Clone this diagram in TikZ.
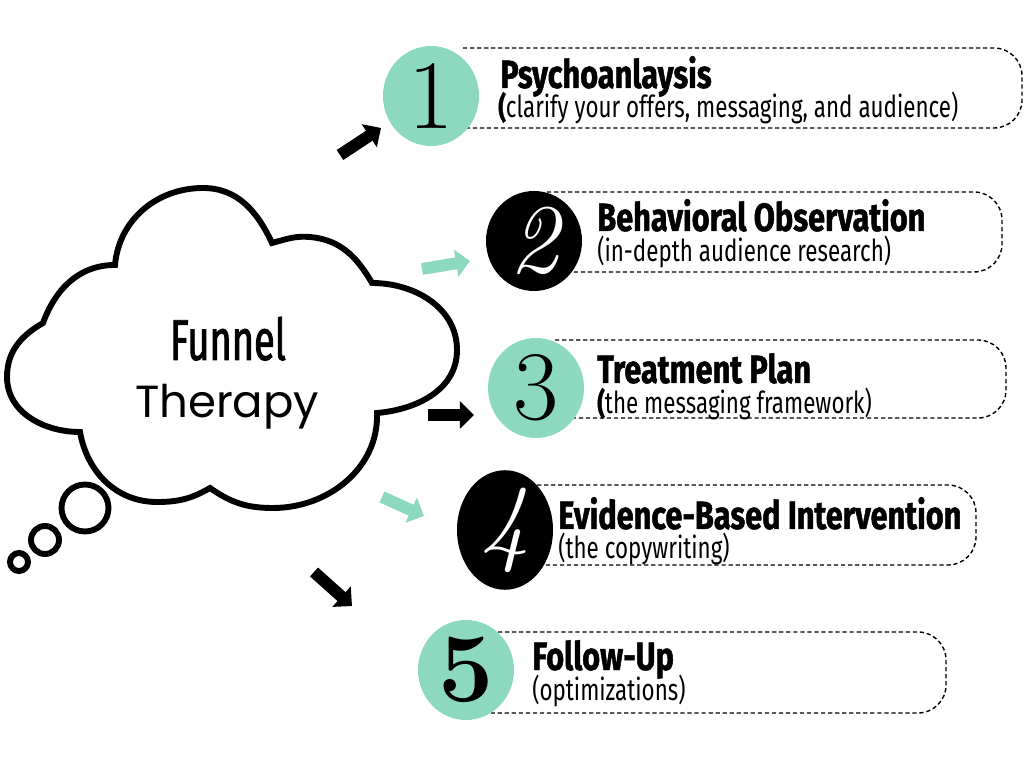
\documentclass[tikz,border=0pt]{standalone}
\usepackage{xcolor}
\usepackage{fontspec}
\usepackage{tikz}
\usetikzlibrary{arrows.meta,shapes.geometric}
\newfontfamily\condfont[FakeStretch=0.74]{Fira Sans}
\newfontfamily\titlefont[FakeStretch=0.78,FakeBold=1.2]{Fira Sans}
\newfontfamily\cloudfont[FakeStretch=0.66,FakeBold=1.5]{Fira Sans}
\newfontfamily\roundfont{Poppins}
\definecolor{mint}{RGB}{141,217,191}

\tikzset{
  cloudline/.style={line width=4.2pt, fill=white},
  numdisc/.style={ellipse, inner sep=0pt, minimum width=24mm, minimum height=25mm,
    font=\fontsize{70}{70}\selectfont},
  mintdisc/.style={numdisc, fill=mint, text=black},
  blackdisc/.style={numdisc, fill=black, text=white},
  dashbox/.style={line width=1pt, dash pattern=on 3pt off 2pt, rounded corners=7mm},
  steptitle/.style={anchor=base west, inner sep=0pt, font=\titlefont\bfseries\fontsize{28}{28}\selectfont},
  stepnote/.style={anchor=base west, inner sep=0pt, font=\condfont\fontsize{21.5}{21.5}\selectfont},
  blockarrow/.style={line width=8.5pt, -{Triangle[length=10pt,width=19pt]}},
}

\begin{document}
\begin{tikzpicture}[x=0.25mm,y=0.25mm]
    \useasboundingbox (0,0) rectangle (1024,768);

    % Thought cloud
    \draw[cloudline] (43,445) to[out=70,in=180] (115,503)
        to[out=85,in=180] (203,580) to[out=0,in=115] (272,525)
        to[out=15,in=175] (310,531) to[out=-5,in=120] (372,485)
        to[out=0,in=90] (457,418) to[out=-90,in=5] (377,355)
        to[out=-88,in=0] (273,260) to[out=180,in=-35] (210,280)
        to[out=-150,in=0] (157,266) to[out=180,in=-80] (80,336)
        to[out=180,in=-90] (7,391) to[out=90,in=-150] cycle;
    \draw[cloudline] (85,260) circle (23.5);
    \draw[cloudline] (45,228) circle (14);
    \draw[cloudline] (19,206) circle (9);
    \node[anchor=base, inner sep=0pt, font=\cloudfont\fontsize{41}{41}\selectfont] (funnel) at (228,408) {Funnel};
    \node[anchor=base, inner sep=0pt, font=\roundfont\fontsize{32}{32}\selectfont] (therapy) at (227,350) {Therapy};

    % Arrows out of the cloud
    \coordinate (a1s) at (340,613); \coordinate (a1e) at (381,640);
    \coordinate (a2s) at (422,499); \coordinate (a2e) at (470,507);
    \coordinate (a3s) at (428,353); \coordinate (a3e) at (474,353);
    \coordinate (a4s) at (382,271); \coordinate (a4e) at (424,252);
    \coordinate (a5s) at (314,196); \coordinate (a5e) at (352,162);
    \draw[blockarrow, black] (a1s) -- (a1e);
    \draw[blockarrow, mint] (a2s) -- (a2e);
    \draw[blockarrow, black] (a3s) -- (a3e);
    \draw[blockarrow, mint] (a4s) -- (a4e);
    \draw[blockarrow, black] (a5s) -- (a5e);

    % Dashed boxes
    \draw[dashbox] (463,720) -- (1022,720) -- (1022,640) -- (463,640);
    \draw[dashbox] (547,576) -- (1002,576) -- (1002,496) -- (547,496);
    \draw[dashbox] (555,428) -- (1006,428) -- (1006,350) -- (555,350);
    \draw[dashbox] (530,283) -- (976,283) -- (976,203) -- (530,203);
    \draw[dashbox] (491,136) -- (946,136) -- (946,55) -- (491,55);

    % Numbered discs
    \node[mintdisc] (n1) at (431,672) {1};
    \node[blackdisc] (n2) at (534,527) {\itshape 2};
    \node[mintdisc] (n3) at (536,380) {3};
    \node[blackdisc] (n4) at (505,238) {\itshape 4};
    \node[mintdisc] (n5) at (466,98) {\bfseries 5};

    % Step texts
    \node[steptitle] (t1) at (500,680) {Psychoanlaysis};
    \node[stepnote] (s1) at (498,650) {{\titlefont\bfseries(}clarify your offers, messaging, and audience)};
    \node[steptitle] (t2) at (597,537) {Behavioral Observation};
    \node[stepnote] (s2) at (597,506) {(in-depth audience research)};
    \node[steptitle] (t3) at (597,385) {Treatment Plan};
    \node[stepnote] (s3) at (597,354) {{\titlefont\bfseries(}the messaging framework)};
    \node[steptitle] (t4) at (558,239) {Evidence-Based Intervention};
    \node[stepnote] (s4) at (558,209) {(the copywriting)};
    \node[steptitle] (t5) at (532,98) {Follow-Up};
    \node[stepnote] (s5) at (532,68) {(optimizations)};
\end{tikzpicture}
\end{document}
